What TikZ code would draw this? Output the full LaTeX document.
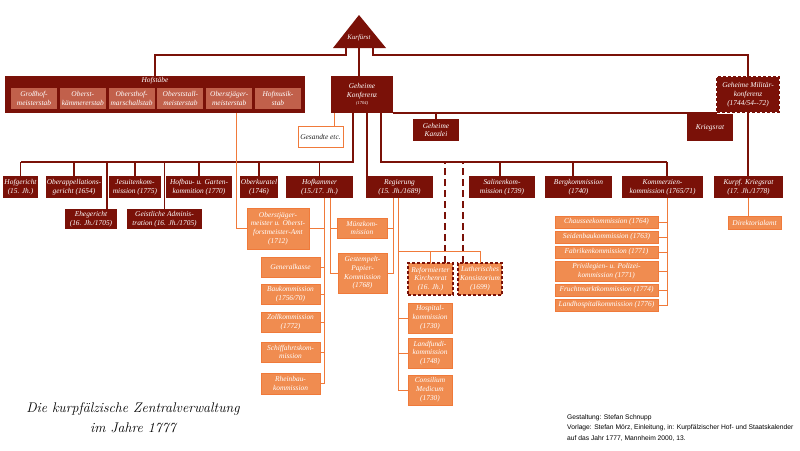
\documentclass[tikz,border=0pt]{standalone}
\usepackage{fontspec}
\newfontfamily\creditfont{Liberation Sans}
\newfontfamily\boxfont{Liberation Serif}
\definecolor{kurrot}{HTML}{7A1108}
\definecolor{stabrot}{HTML}{C1604B}
\definecolor{amt}{HTML}{F08C50}
\definecolor{amtlinie}{HTML}{F07A3A}
\definecolor{hellrand}{HTML}{F5A578}
\tikzset{
  box/.style={inner sep=0.5pt, outer sep=0, align=center, text=white,
    font=\boxfont\itshape\fontsize{7.4}{8.8}\selectfont},
  wh/.style 2 args={minimum width=#1pt, minimum height=#2pt},
  kb/.style={box, fill=kurrot},
  sb/.style={box, fill=stabrot},
  ab/.style={box, fill=amt, draw=amtlinie, line width=0.5pt},
  kd/.style={kb, preaction={draw=hellrand, line width=1.6pt},
    draw=kurrot, line width=1.6pt, dash pattern=on 3pt off 2pt},
  ad/.style={box, fill=amt, preaction={draw=amtlinie, line width=1.4pt},
    draw=kurrot, line width=1.4pt, dash pattern=on 3pt off 2pt},
  kl/.style={draw=kurrot, line width=1.2pt},
  al/.style={draw=amtlinie, line width=1pt},
  dl/.style={draw=kurrot, line width=1.2pt, dash pattern=on 7pt off 4pt}
}

\begin{document}
\begin{tikzpicture}[x=1pt, y=-1pt]
  \useasboundingbox (0,0) rectangle (800,450);

  % Kurfuerst
  \fill[kurrot] (333,48) -- (359,15) -- (386,48) -- cycle;
  \node[box, font=\boxfont\itshape\fontsize{6.8}{8}\selectfont] (kf) at (359,38) {Kurfürst};
  \coordinate (kfl) at (346,48);
  \coordinate (kfm) at (359,48);
  \coordinate (kfr) at (373,48);

  % Hofstaebe
  \fill[kurrot] (5,76) rectangle (305,113);
  \node[box, minimum width=300pt, minimum height=37pt, anchor=north west] (HS) at (5,76) {};
  \node[box] at (155,81) {Hofstäbe};
  \foreach \t [count=\i] in {Großhof-\\meisterstab, Oberst-\\kämmererstab,
      Obersthof-\\marschallstab, Oberststall-\\meisterstab,
      Oberstjäger-\\meisterstab, Hofmusik-\\stab}
    \node[sb, wh={46}{21}] (hs\i) at ({34+48.8*(\i-1)},98.5) {\t};

  % obere Ebene
  \node[kb, wh={62}{37}] (GK) at (362,94.5)
    {Geheime\\Konferenz\\[-2pt]{\fontsize{4.5}{6}\selectfont(1704)}};
  \node[kd, wh={62}{35}] (GMK) at (748,94.5)
    {Geheime Militär-\\konferenz\\(1744/54--72)};
  \node[kb, wh={46}{22}] (kzl) at (436,130) {Geheime\\Kanzlei};
  \node[kb, wh={46}{27}] (kr) at (710,127.5) {Kriegsrat};
  \node[box, wh={45}{21}, fill=white, draw=amtlinie, line width=0.8pt,
    text=black!85] (gs) at (320.5,136.5) {Gesandte etc.};

  % Reihe der Behoerden
  \node[kb, wh={35}{22}] (hg) at (20.5,187) {Hofgericht\\(15. Jh.)};
  \node[kb, wh={56}{22}] (oa) at (74,187) {Oberappellations-\\gericht (1654)};
  \node[kb, wh={52}{22}] (jk) at (135,187) {Jesuitenkom-\\mission (1775)};
  \node[kb, wh={66}{22}] (hb) at (199,187) {Hofbau- u. Garten-\\kommition (1770)};
  \node[kb, wh={38}{22}] (ok) at (259,187) {Oberkuratel\\(1746)};
  \node[kb, wh={67}{22}] (hk) at (319.5,187) {Hofkammer\\(15./17. Jh.)};
  \node[kb, wh={67}{22}] (rg) at (399.5,187) {Regierung\\(15. Jh./1689)};
  \node[kb, wh={66}{22}] (sk) at (502,187) {Salinenkom-\\mission (1739)};
  \node[kb, wh={67}{22}] (bk) at (578.5,187) {Bergkommission\\(1740)};
  \node[kb, wh={81}{22}] (kz) at (662.5,187) {Kommerzien-\\kommission (1765/71)};
  \node[kb, wh={69}{22}] (kk) at (748.5,187) {Kurpf. Kriegsrat\\(17. Jh./1778)};
  \node[kb, wh={52}{20}] (eg) at (91,219) {Ehegericht\\(16. Jh./1705)};
  \node[kb, wh={75}{20}] (ga) at (164.5,219) {Geistliche Adminis-\\tration (16. Jh./1705)};

  % Hofkammer
  \node[ab, wh={62}{41}] (OJ) at (278,228.5)
    {Oberstjäger-\\meister u. Oberst-\\forstmeister-Amt\\(1712)};
  \node[ab, wh={59}{20}] (gkas) at (290.5,267) {Generalkasse};
  \node[ab, wh={59}{20}] (bau) at (290.5,294) {Baukommission\\(1756/70)};
  \node[ab, wh={59}{20}] (zoll) at (290.5,322) {Zollkommission\\(1772)};
  \node[ab, wh={59}{20}] (sch) at (290.5,352) {Schiffahrtskom-\\mission};
  \node[ab, wh={59}{21}] (rb) at (290.5,383.5) {Rheinbau-\\kommission};
  \node[ab, wh={50}{20}] (mk) at (362,228) {Münzkom-\\mission};
  \node[ab, wh={49}{40}] (gp) at (362.5,273) {Gestempelt-\\Papier-\\Kommission\\(1768)};

  % Regierung
  \node[ad, wh={45}{32}] (rk) at (430.5,279) {Reformierter\\Kirchenrat\\(16. Jh.)};
  \node[ad, wh={44}{32}] (lk) at (480,279) {Lutherisches\\Konsistorium\\(1699)};
  \node[ab, wh={44}{30}] (hp) at (430,318) {Hospital-\\kommission\\(1730)};
  \node[ab, wh={44}{30}] (lf) at (430,353) {Landfundi-\\kommission\\(1748)};
  \node[ab, wh={44}{30}] (cm) at (430,390) {Consilium\\Medicum\\(1730)};

  % Kommerzienkommission
  \node[ab, wh={103}{12}] (ch) at (606.5,222) {Chausseekommission (1764)};
  \node[ab, wh={103}{12}] (sd) at (606.5,237) {Seidenbaukommission (1763)};
  \node[ab, wh={103}{12}] (fb) at (606.5,252) {Fabrikenkommission (1771)};
  \node[ab, wh={103}{20}] (pv) at (606.5,271) {Privilegien- u. Polizei-\\kommission (1771)};
  \node[ab, wh={103}{12}] (fm) at (606.5,290) {Fruchtmarktkommission (1774)};
  \node[ab, wh={103}{12}] (lh) at (606.5,305) {Landhospitalkommission (1776)};
  \node[ab, wh={53}{13}] (da) at (754.5,222.5) {Direktorialamt};

  % Verbindungen Kurfuerst
  \draw[kl] (kfl) -- ++(0,7) -| (HS.north);
  \draw[kl] (kfm) -- (kfm |- GK.north);
  \draw[kl] (kfr) -- ++(0,7) -| (GMK.north);
  \draw[kl] (GK.south east) -- (GK.south east -| GMK.west);
  \draw[kl] (kzl.north) -- (kzl.north |- GK.south);

  % Geheime Konferenz nach unten
  \coordinate (gk0) at ([xshift=-28pt]GK.south);
  \coordinate (gk1) at ([xshift=-9pt]GK.south);
  \coordinate (gk2) at ([xshift=5pt]GK.south);
  \coordinate (gk3) at ([xshift=19pt]GK.south);
  \draw[al] (gk0) -- (gk0 |- gs.north);
  \draw[kl] (gk1) -- ++(0,49) coordinate (busl) -- (busl -| hg.north);
  \foreach \n in {hg,oa,jk,hb,ok,hk}
    \draw[kl] (\n.north) -- ++(0,-14);
  \draw[kl] ([xshift=16pt]eg.north) -- ++(0,-47);
  \draw[kl] (ga.north) -- ++(0,-47);
  \draw[kl] (gk2) -- (gk2 |- rg.north);
  \draw[kl] (gk3) -- (gk3 |- busl) coordinate (busr) -- (busr -| kz.north) -- ++(4.5,0);
  \foreach \n/\d in {sk/-2,bk/-5.5,kz/4.5}
    \draw[kl] ([xshift=\d pt]\n.north) -- ++(0,-14);
  \draw[dl] ([xshift=14.5pt]rk.north) -- ++(0,-101);
  \draw[dl] ([xshift=-17pt]lk.north) -- ++(0,-101);
  \draw[kl] (GMK.south) -- (GMK.south |- kk.north);
  \draw[al] (kk.south) -- (kk.south |- da.north);

  % Oberstjaegermeister und Hofkammer
  \coordinate (oj) at ([xshift=7pt]hs5.south);
  \draw[al] (oj |- HS.south) |- (OJ.west);
  \coordinate (hk1) at ([xshift=4.5pt]hk.south);
  \coordinate (hk2) at ([xshift=10.5pt]hk.south);
  \draw[al] (hk1) |- (rb.east);
  \foreach \n in {OJ,gkas,bau,zoll,sch}
    \draw[al] (\n.east) -- (\n.east -| hk1);
  \draw[al] (hk2) |- (gp.west);
  \draw[al] (mk.west) -- (mk.west -| hk2);

  % Regierung
  \coordinate (rg1) at ([xshift=-6.5pt]rg.south);
  \coordinate (rg2) at ([xshift=-1.5pt]rg.south);
  \draw[al] (rg1) |- (gp.east);
  \draw[al] (mk.east) -- (mk.east -| rg1);
  \draw[al] (rg2) |- (cm.west);
  \draw[al] (hp.west) -- (hp.west -| rg2);
  \draw[al] (lf.west) -- (lf.west -| rg2);
  \draw[al] (rg2) -- ++(0,53) coordinate (rgq) -| (lk.north);
  \draw[al] (rk.north) -- (rk.north |- rgq);

  % Kommerzienkommission
  \coordinate (kz1) at ([xshift=4.5pt]kz.south);
  \draw[al] (kz1) |- (lh.east);
  \foreach \n in {ch,sd,fb,pv,fm}
    \draw[al] (\n.east) -- (\n.east -| kz1);

  % Titel und Nachweis
  \node[align=center, font=\fontsize{14}{20}\selectfont\itshape] (titel) at (133,418)
    {Die kurpfälzische Zentralverwaltung\\im Jahre 1777};
  \node[anchor=north west, inner sep=0, align=left,
    font=\creditfont\fontsize{6.7}{10.5}\selectfont] (quelle) at (567,414)
    {Gestaltung: Stefan Schnupp\\
     Vorlage: Stefan Mörz, Einleitung, in: Kurpfälzischer Hof- und Staatskalender\\
     auf das Jahr 1777, Mannheim 2000, 13.};
\end{tikzpicture}
\end{document}
